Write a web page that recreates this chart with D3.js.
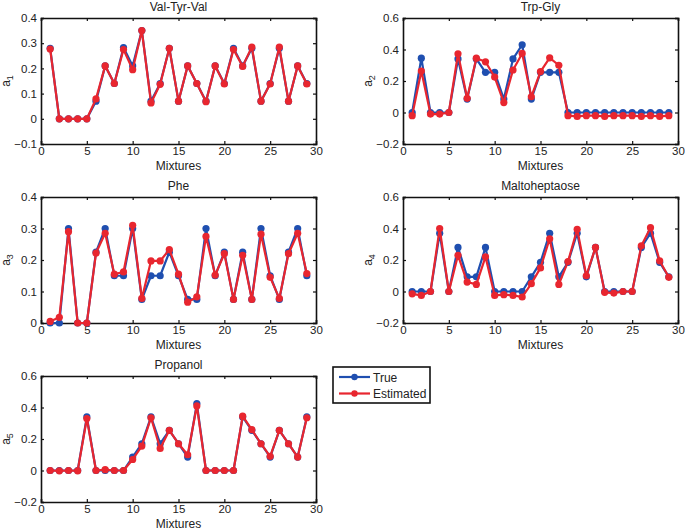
<!DOCTYPE html>
<html><head><meta charset="utf-8">
<script src="https://cdn.jsdelivr.net/npm/d3@7"></script>
<style>body{margin:0;background:#fff}svg{display:block}text{font-family:"Liberation Sans",Arial,sans-serif;fill:#222}</style>
</head><body><svg id="c" width="685" height="531"></svg>
<script>
const mixtures = d3.range(1, 30);
const titles = ["Val-Tyr-Val", "Trp-Gly", "Phe", "Maltoheptaose", "Propanol"];
const seriesNames = ["True", "Estimated"];
const yDomains = [[-0.1, 0.4], [-0.2, 0.6], [0, 0.4], [-0.2, 0.6], [-0.2, 0.6]];
const yTicks = [[-0.1, 0, 0.1, 0.2, 0.3, 0.4], [-0.2, 0, 0.2, 0.4, 0.6], [0, 0.1, 0.2, 0.3, 0.4], [-0.2, 0, 0.2, 0.4, 0.6], [-0.2, 0, 0.2, 0.4, 0.6]];
const xTicks = [0, 5, 10, 15, 20, 25, 30];

const true1 = [0.28,0,0,0,0,0.07,0.21,0.14,0.283,0.21,0.35,0.07,0.14,0.28,0.07,0.21,0.14,0.07,0.21,0.14,0.28,0.21,0.28,0.07,0.14,0.28,0.07,0.21,0.14];
const est1  = [0.277,0,0,0,0,0.079,0.21,0.14,0.275,0.195,0.35,0.063,0.137,0.28,0.07,0.21,0.14,0.068,0.21,0.138,0.275,0.208,0.285,0.07,0.138,0.285,0.07,0.21,0.138];
const true2 = [0,0.345,0,0,0,0.34,0.085,0.34,0.255,0.255,0.085,0.34,0.43,0.085,0.255,0.255,0.255,0,0,0,0,0,0,0,0,0,0,0,0];
const est2  = [-0.02,0.263,-0.01,-0.01,0,0.373,0.09,0.345,0.322,0.225,0.063,0.27,0.375,0.1,0.26,0.347,0.3,-0.02,-0.025,-0.02,-0.02,-0.025,-0.02,-0.02,-0.02,-0.025,-0.02,-0.025,-0.02];
const true3 = [0,0,0.3,0,0,0.225,0.3,0.15,0.15,0.3,0.075,0.15,0.15,0.225,0.15,0.075,0.075,0.3,0.15,0.225,0.075,0.225,0.075,0.3,0.15,0.075,0.225,0.3,0.15];
const est3  = [0.005,0.018,0.29,0,0,0.222,0.285,0.155,0.162,0.31,0.078,0.197,0.197,0.233,0.155,0.066,0.083,0.275,0.152,0.22,0.075,0.215,0.075,0.282,0.145,0.078,0.22,0.285,0.157];
const true4 = [0,0,0,0.37,0,0.28,0.093,0.093,0.28,0,0,0,0,0.093,0.185,0.37,0.093,0.185,0.37,0.093,0.28,0,0,0,0,0.28,0.37,0.185,0.093];
const est4  = [-0.015,-0.025,0,0.4,0,0.23,0.06,0.045,0.22,-0.025,-0.02,-0.025,-0.035,0.05,0.15,0.335,0.045,0.19,0.395,0.1,0.28,-0.005,-0.01,0,0,0.29,0.405,0.195,0.09];
const true5 = [0,0,0,0,0.34,0,0,0,0,0.085,0.17,0.34,0.17,0.255,0.17,0.085,0.425,0,0,0,0,0.34,0.255,0.17,0.085,0.255,0.17,0.085,0.34];
const est5  = [0,-0.002,0,-0.002,0.33,0,0.005,0,0,0.07,0.155,0.335,0.14,0.255,0.17,0.1,0.41,0,0,0,0,0.345,0.26,0.17,0.09,0.255,0.17,0.085,0.335];
const trueVals = [true1, true2, true3, true4, true5];
const estVals = [est1, est2, est3, est4, est5];
const colors = ["#1f4fb0", "#e8262f"];

const svg = d3.select("#c");
const W = 275, H = 126;
const lefts = [41, 403, 41, 403, 41];
const tops = [18, 18, 197, 197, 376];

titles.forEach((t, i) => {
  const g = svg.append("g").attr("transform", `translate(${lefts[i]},${tops[i]})`);
  const x = d3.scaleLinear().domain([0, 30]).range([0, W]);
  const y = d3.scaleLinear().domain(yDomains[i]).range([H, 0]);
  const fmt = d => d === 0 ? "0" : d3.format(".1f")(d);
  const ax = [
    d3.axisBottom(x).tickValues(xTicks).tickSize(-3).tickPadding(3).tickFormat(d3.format("d")),
    d3.axisTop(x).tickValues(xTicks).tickSize(-3).tickFormat(""),
    d3.axisLeft(y).tickValues(yTicks[i]).tickSize(-3).tickPadding(4).tickFormat(fmt),
    d3.axisRight(y).tickValues(yTicks[i]).tickSize(-3).tickFormat("")
  ];
  const tr = [`translate(0,${H})`, "translate(0,0)", "translate(0,0)", `translate(${W},0)`];
  ax.forEach((a, k) => {
    const ag = g.append("g").attr("transform", tr[k]).call(a);
    ag.select(".domain").attr("stroke", "#111").attr("stroke-width", 1.6);
    ag.selectAll(".tick line").attr("stroke", "#111").attr("stroke-width", 1.2);
    ag.selectAll("text").style("font-size", "11.5px").attr("fill", "#222");
  });
  const line = d3.line().x((d, j) => x(mixtures[j])).y(d => y(d));
  [trueVals[i], estVals[i]].forEach((vals, s) => {
    g.append("path").attr("d", line(vals)).attr("fill", "none")
      .attr("stroke", colors[s]).attr("stroke-width", 2.2).attr("stroke-linejoin", "round");
    g.selectAll(null).data(vals).enter().append("circle")
      .attr("cx", (d, j) => x(mixtures[j])).attr("cy", d => y(d)).attr("r", 3.6)
      .attr("fill", colors[s]);
  });
  g.append("text").attr("x", W / 2).attr("y", -7).attr("text-anchor", "middle")
    .style("font-size", "12px").text(t);
  g.append("text").attr("x", W / 2).attr("y", H + 26).attr("text-anchor", "middle")
    .style("font-size", "12px").text("Mixtures");
  const yl = g.append("text").attr("transform", `translate(${-31},${H / 2}) rotate(-90)`)
    .attr("text-anchor", "middle").style("font-size", "12px");
  yl.append("tspan").text("a");
  yl.append("tspan").attr("dy", 3).style("font-size", "9px").text(String(i + 1));
});

const lg = svg.append("g").attr("transform", "translate(333,367)");
lg.append("rect").attr("width", 97).attr("height", 36).attr("fill", "#fff")
  .attr("stroke", "#111").attr("stroke-width", 1.6);
seriesNames.forEach((n, s) => {
  const yy = 10 + s * 16.5;
  lg.append("line").attr("x1", 6).attr("x2", 37).attr("y1", yy).attr("y2", yy)
    .attr("stroke", colors[s]).attr("stroke-width", 2.2);
  lg.append("circle").attr("cx", 21.5).attr("cy", yy).attr("r", 3.2).attr("fill", colors[s]);
  lg.append("text").attr("x", 40).attr("y", yy + 4.5).style("font-size", "12px").text(n);
});
</script></body></html>
